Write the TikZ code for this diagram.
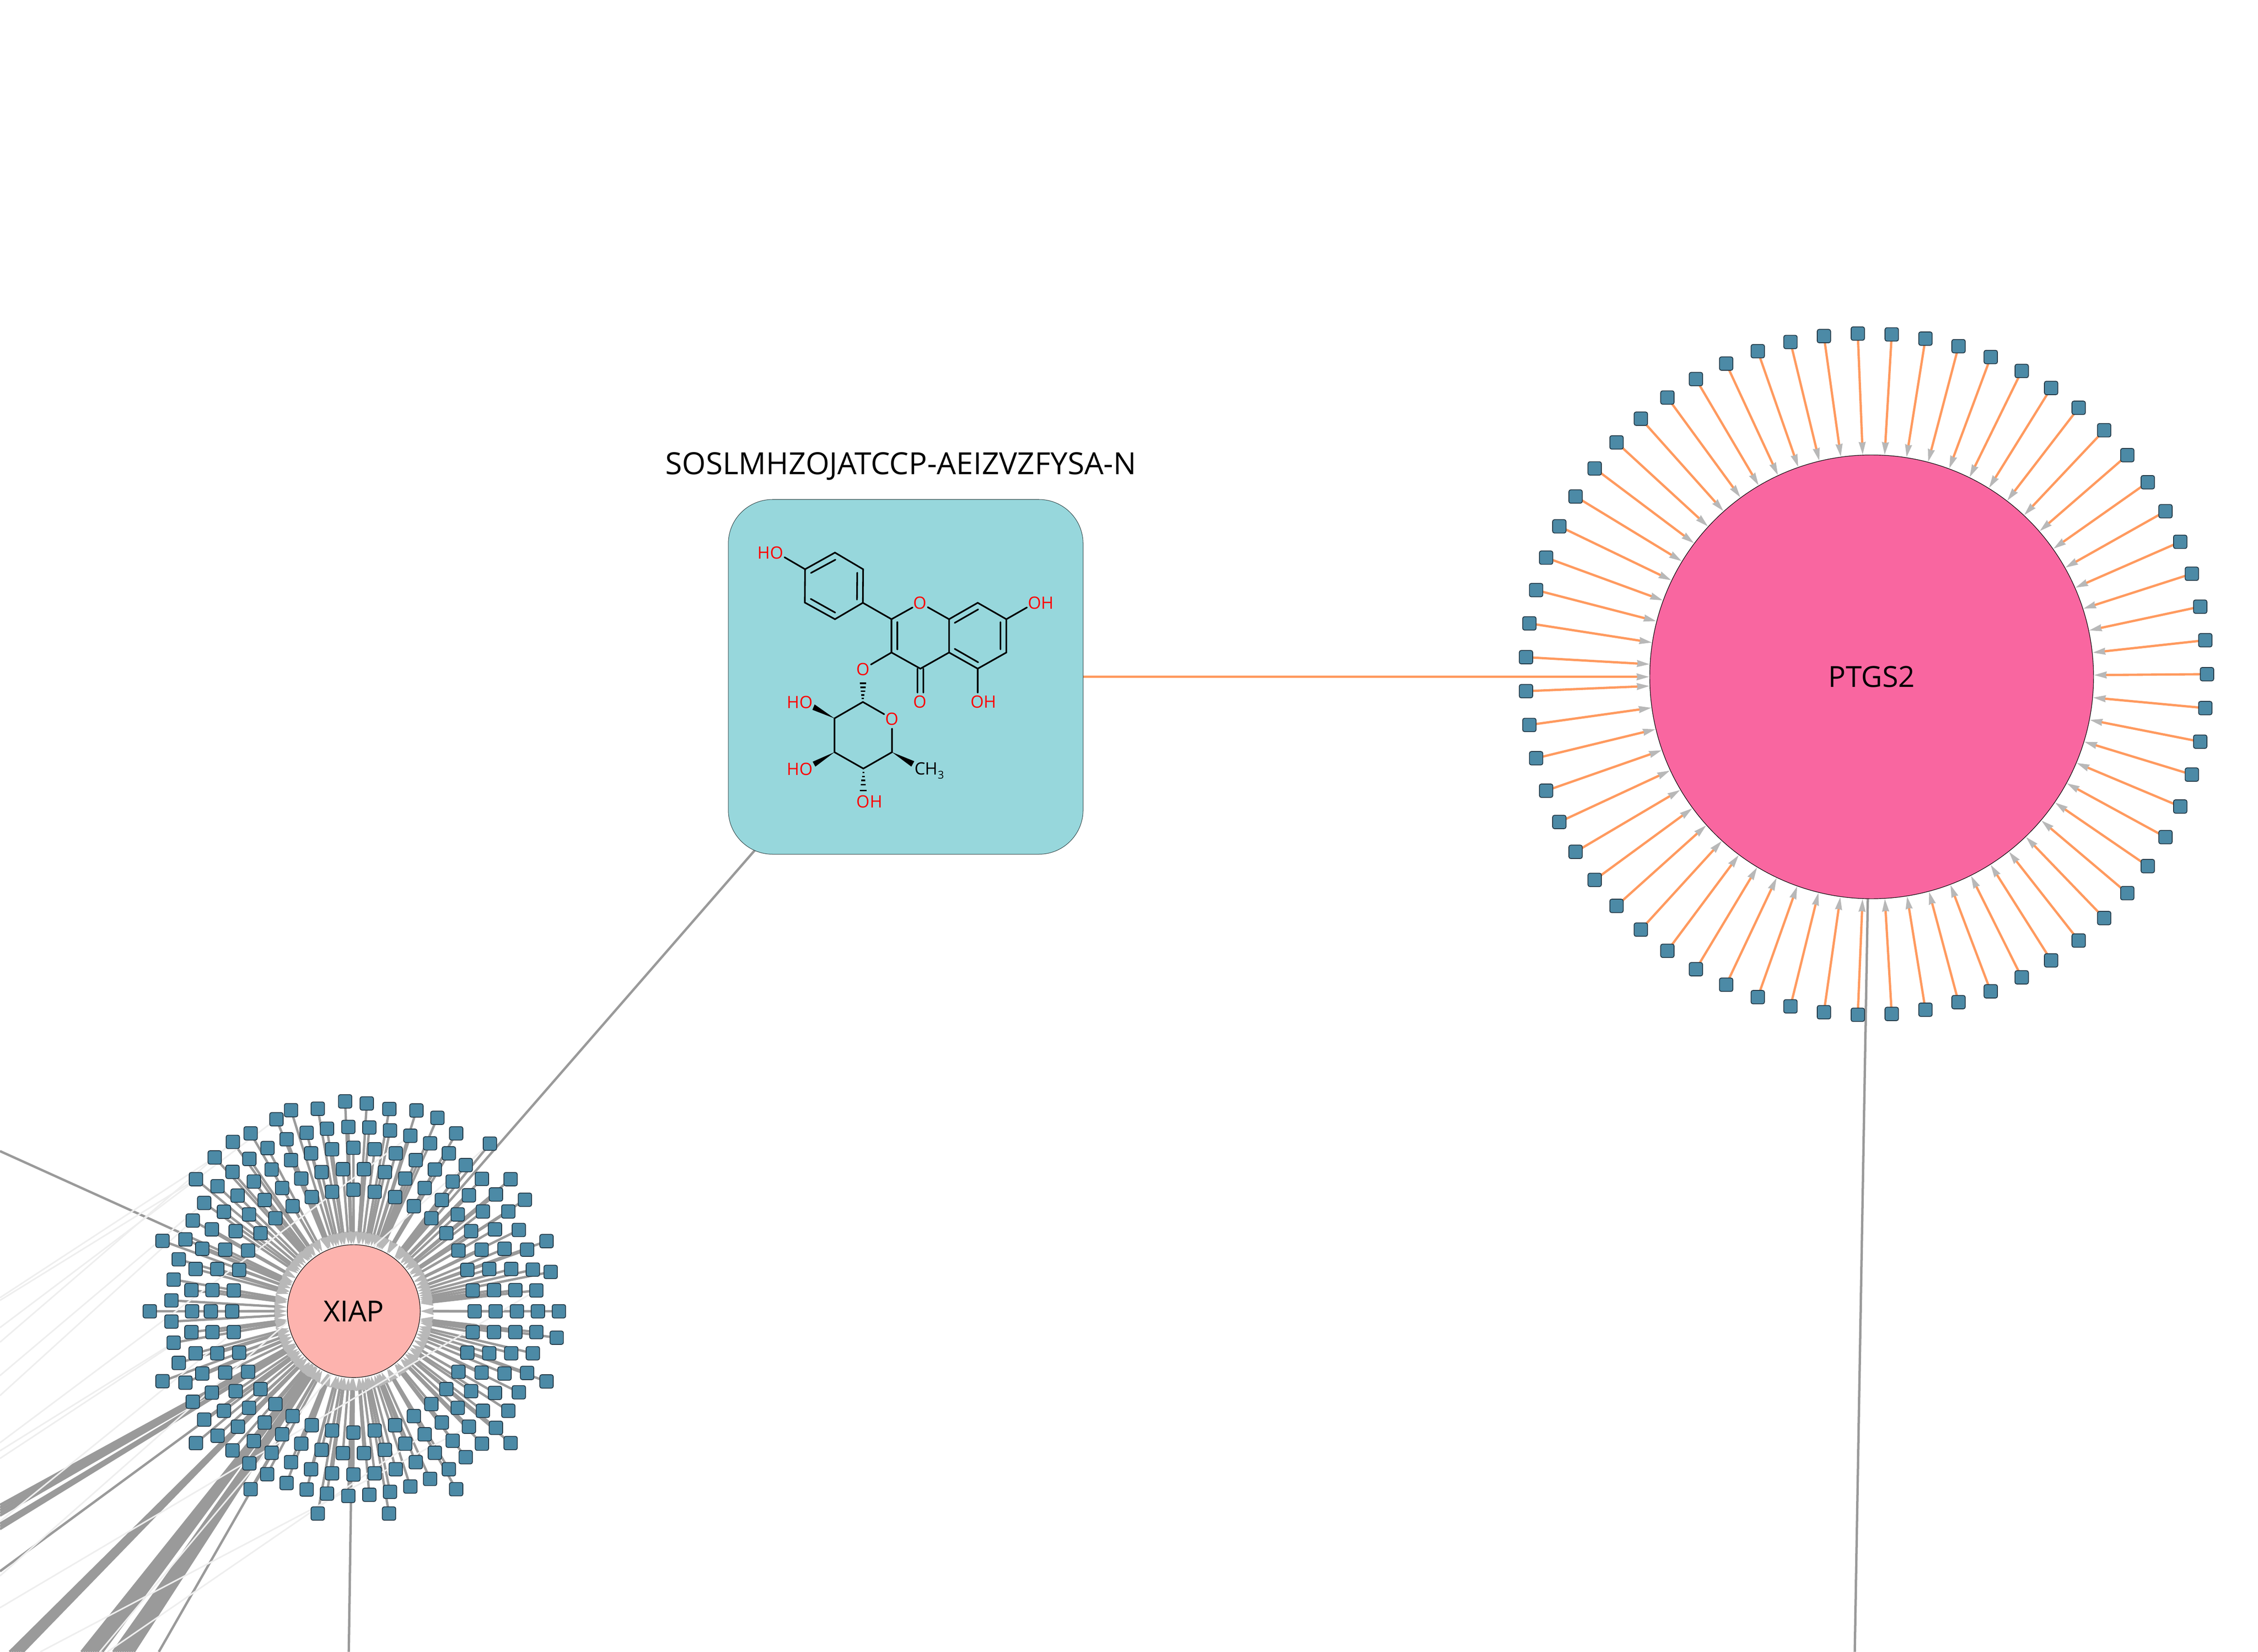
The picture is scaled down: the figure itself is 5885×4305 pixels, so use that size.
\documentclass[tikz,border=0pt]{standalone}
\usepackage{fontspec}
\setmainfont{Open Sans}
\usetikzlibrary{arrows.meta}
\definecolor{sqfill}{HTML}{4C8AA6}
\definecolor{sqline}{HTML}{1F3340}
\definecolor{boxfill}{HTML}{97D7DC}
\definecolor{pinkbig}{HTML}{F966A0}
\definecolor{pinksmall}{HTML}{FDB3AE}
\definecolor{orangeedge}{HTML}{FF9A5F}
\definecolor{greyedge}{HTML}{9A9A9A}
\definecolor{arrowgrey}{HTML}{B8B8B8}
\definecolor{lightedge}{HTML}{EEEEEE}
\pgfdeclarelayer{edges}
\pgfsetlayers{edges,main}
\tikzset{
  sq/.style={draw=sqline,fill=sqfill,line width=.02cm,rounded corners=.05cm,minimum size=.35cm,inner sep=0pt},
  edgeplain/.style={draw=greyedge,line width=.062cm},
  edgegrey/.style={draw=greyedge,line width=.062cm,-{Stealth[length=.33cm,width=.17cm,inset=.015cm,color=arrowgrey]}},
  edgeorange/.style={draw=orangeedge,line width=.06cm,-{Stealth[length=.33cm,width=.17cm,inset=.015cm,color=arrowgrey]}},
  edgelight/.style={draw=lightedge,line width=.04cm},
  bond/.style={line width=.042cm,draw=black,line cap=round},
  hashb/.style={line width=.04cm,draw=black},
  atomr/.style={text=red,inner sep=0pt,font=\fontsize{12.6pt}{13pt}\selectfont},
  atomk/.style={text=black,inner sep=0pt,font=\fontsize{12.6pt}{13pt}\selectfont},
}
\begin{document}
\begin{tikzpicture}[x=.01cm,y=-.01cm]
\path[use as bounding box] (0,0) rectangle (5885,4305);
\node[circle,draw=black,line width=.014cm,fill=pinkbig,minimum size=11.56cm,inner sep=0pt,font=\fontsize{21.5pt}{24pt}\selectfont] (ptgs2) at (4878,1764) {PTGS2};
\node[circle,draw=black,line width=.014cm,fill=pinksmall,minimum size=3.46cm,inner sep=0pt,font=\fontsize{21.5pt}{24pt}\selectfont] (xiap) at (922,3417) {XIAP};
\node[draw=black!70!boxfill,line width=.012cm,fill=boxfill,rounded corners=1.15cm,minimum size=9.24cm,inner sep=0pt] (box) at (2360.5,1764) {};
\node[font=\fontsize{22.6pt}{24pt}\selectfont,inner sep=0pt,anchor=base] (title) at (2348,1236) {SOSLMHZOJATCCP-AEIZVZFYSA-N};
% PTGS2 satellites
\foreach \k in {0,...,62}{
  \node[sq] (p\k) at ({4864+888*cos(5.7142857*\k)},{1757-888*sin(5.7142857*\k)}) {};
}
% XIAP satellites
\foreach \zx/\zy [count=\i] in {
723/92,791/99,862/118,947/123,1013/148,1072/201,1178/236,553/122,637/117,507/153,426/201,370/230,313/283,254/357,
733/179,799/181,666/185,864/191,602/199,928/209,539/221,990/235,479/251,1049/269,422/288,1102/309,369/332,1153/356,1243/357,
749/250,816/255,682/255,882/269,616/269,945/292,553/292,1005/324,492/324,1061/365,436/365,1112/412,1197/409,385/413,322/381,1288/427,
716/323,782/323,649/333,848/333,585/355,912/355,525/387,973/387,470/428,1027/428,421/477,1077/477,379/534,1119/534,304/528,1156/467,1236/467,342/468,280/438,244/498,1194/528,1269/530,
749/393,682/400,816/400,618/418,880/418,558/449,939/449,504/490,994/490,457/541,1041/541,418/600,1079/600,346/597,1152/597,274/594,1224/594,221/562,1295/597,1356/568,149/567,
390/666,1107/666,321/663,1176/663,253/663,1245/663,200/630,1313/665,1369/673,184/699,
373/736,1124/736,306/735,1191/735,240/735,1258/735,177/770,1324/736,
368/807,301/807,242/807,109/807,1130/807,1196/807,1263/807,1329/807,1395/807,177/842,
373/878,306/878,240/878,184/914,1124/878,1191/878,1258/878,1324/878,1388/897,
390/948,321/950,253/950,200/983,1107/948,1176/950,1245/950,1313/950,
418/1013,346/1016,274/1019,221/1050,149/1045,1079/1013,1152/1016,1224/1019,1295/1017,1356/1046,
457/1072,379/1079,304/1084,244/1115,1041/1072,1119/1079,1194/1085,1269/1083,
504/1123,421/1136,342/1146,280/1176,994/1123,1077/1136,1156/1146,1236/1146,
558/1164,470/1186,386/1200,322/1231,254/1256,939/1164,1027/1186,1112/1200,1197/1204,1243/1256,
618/1195,525/1226,436/1249,369/1281,880/1195,973/1226,1061/1248,1153/1258,
682/1213,749/1220,816/1213,
585/1258,492/1289,422/1325,912/1258,1005/1289,1102/1304,
649/1279,716/1290,782/1290,848/1279,
553/1321,478/1362,426/1413,945/1321,1049/1345,
616/1345,539/1392,882/1345,990/1378,
682/1359,749/1363,816/1359,
602/1414,666/1428,733/1436,799/1432,864/1422,928/1404,1072/1413,
637/1496,861/1496}{
  \node[sq] (s\i) at ({300+\zx/1.206},{2800+\zy/1.307}) {};
  \xdef\nsat{\i}
}
\begin{pgfonlayer}{edges}
\foreach \k in {0,...,62}{\draw[edgeorange] (p\k.center) -- (ptgs2);}
\foreach \i in {1,...,\nsat}{\draw[edgegrey] (s\i.center) -- (xiap);}
% long connectors
\draw[edgeorange] (box.center) -- (ptgs2);
\draw[edgegrey] (box.center) -- (xiap);
\coordinate (ptin) at (4834,4305);
\draw[edgeplain] (ptin) -- (ptgs2);
% bundles leaving the frame towards the lower left
\foreach \ex/\ey in {0/3000,0/3922,0/3929,0/3936,0/3943,0/3950,0/3971,0/3978,0/3985,0/4095,
  25/4305,31/4305,37/4305,43/4305,49/4305,55/4305,60/4305,
  212/4305,218/4305,224/4305,230/4305,236/4305,242/4305,248/4305,254/4305,260/4305,267/4305,
  295/4305,301/4305,307/4305,313/4305,319/4305,325/4305,331/4305,337/4305,343/4305,349/4305,
  414/4305,909/4305}{
  \coordinate (e) at (\ex,\ey);
  \draw[edgegrey] (e) -- (xiap);
}
% faint connectors
\foreach \ax/\ay/\bx/\by in {
  0/3389/511/3073, 0/3382/560/3016, 0/3460/720/2917, 0/3498/607/2976,
  0/3585/532/3135, 0/3637/502/3181, 0/3781/453/3499,
  0/3801/499/3472, 0/3760/1069/2960, 0/4190/1398/3363, 105/4305/1222/3718, 260/4305/900/3540,
  280/4305/1151/3707, 0/4107/1277/2980, 0/3965/609/3472}{
  \coordinate (fa) at (\ax,\ay);
  \coordinate (fb) at (\bx,\by);
  \draw[edgelight] (fa) -- (fb);
}
\end{pgfonlayer}
% molecule
\begin{scope}[shift={(1850,1250)},x=.006378cm,y=-.006378cm]
\draw[bond] (389,366)--(511,298)--(626,366)--(625,503)--(511,570)--(388,502)--cycle;
\draw[bond] (305,317)--(389,366);
\draw[bond] (413,381)--(513,327) (601,490)--(602,380) (412,487)--(512,543);
\draw[bond] (625,503)--(742,570)--(828,522) (890,521)--(977,570)--(977,706)--(860,772)--(742,706);
\draw[bond] (742,570)--(742,706) (766,582)--(766,693);
\draw[bond] (977,570)--(1094,503)--(1211,570)--(1211,706)--(1094,772)--(977,706);
\draw[bond] (1000,585)--(1096,530) (1187,582)--(1187,693) (1000,691)--(1096,746);
\draw[bond] (1211,570)--(1295,522) (1094,772)--(1094,870) (848,772)--(848,870) (872,772)--(872,870);
\draw[bond] (742,706)--(658,755);
\draw[bond] (712,958)--(625,908)--(509,975)--(509,1113)--(627,1180)--(744,1113)--(744,1017);
\fill (509,975)--(428,918)--(419,940)--cycle;
\fill (509,1113)--(420,1152)--(431,1172)--cycle;
\fill (744,1113)--(835,1150)--(823,1172)--cycle;
\draw[hashb] (612,832)--(638,832) (614,848)--(636,848) (616,864)--(634,864) (618,880)--(632,880) (620,894)--(630,894);
\draw[hashb] (623,1196)--(631,1196) (621,1212)--(633,1212) (619,1228)--(635,1228) (617,1246)--(637,1246) (613,1270)--(641,1270);
\node[atomr] (a1) at (248,298) {HO};
\node[atomr] (a2) at (859,503) {O};
\node[atomr] (a3) at (1352,503) {OH};
\node[atomr] (a4) at (1118,908) {OH};
\node[atomr] (a5) at (859,908) {O};
\node[atomr] (a6) at (625,775) {O};
\node[atomr] (a7) at (367,910) {HO};
\node[atomr] (a8) at (743,978) {O};
\node[atomr] (a9) at (368,1182) {HO};
\node[atomr] (a10) at (652,1315) {OH};
\node[atomk,anchor=base west] (a11) at (835,1205) {CH\raisebox{-.25em}{\fontsize{8pt}{9pt}\selectfont 3}};
\end{scope}
\end{tikzpicture}
\end{document}
